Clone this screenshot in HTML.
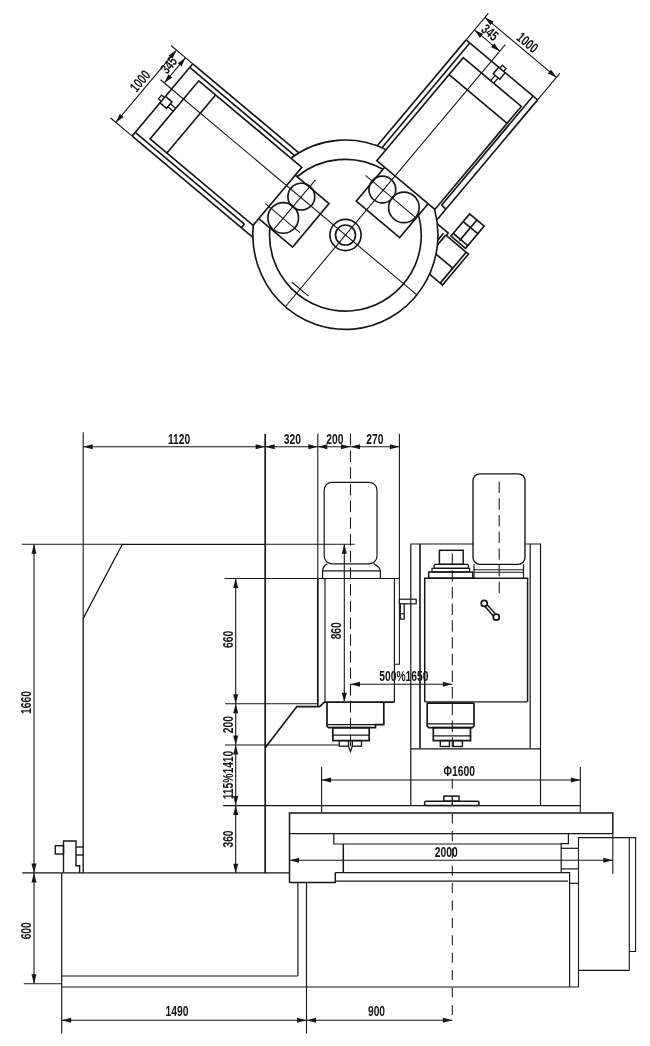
<!DOCTYPE html>
<html><head><meta charset="utf-8"><title>Machine outline drawing</title>
<style>
html,body{margin:0;padding:0;background:#fff;}
body{width:650px;height:1046px;overflow:hidden;}
svg{display:block;filter:grayscale(1);}
svg *{fill:none;stroke:#161616;stroke-linecap:butt;stroke-linejoin:miter;}
svg .f{fill:#161616;stroke:none;}
svg text.f{font-weight:bold;}
svg text{font-family:"Liberation Sans",Arial,sans-serif;}
</style></head><body>
<svg width="650" height="1046" viewBox="0 0 650 1046">
<rect x="0" y="0" width="650" height="1046" style="fill:#fff;stroke:none"/>
<line x1="132.21" y1="136.05" x2="192.82" y2="63.81" stroke-width="1.65" />
<line x1="192.82" y1="63.81" x2="298.90" y2="152.82" stroke-width="1.65" />
<line x1="189.73" y1="67.48" x2="294.64" y2="155.51" stroke-width="1.65" />
<line x1="132.21" y1="136.05" x2="252.89" y2="237.31" stroke-width="1.65" />
<line x1="135.23" y1="132.45" x2="244.39" y2="224.04" stroke-width="1.65" />
<line x1="244.39" y1="224.04" x2="241.37" y2="227.64" stroke-width="1.65" />
<polygon points="301.81,167.27 198.78,80.82 150.06,138.88 253.09,225.34" stroke-width="1.65" />
<line x1="215.63" y1="94.96" x2="166.91" y2="153.03" stroke-width="1.65" />
<polyline points="295.19,175.16 329.05,203.57 292.61,247.01 258.75,218.60" stroke-width="1.65" />
<circle cx="301.33" cy="196.63" r="13.40" stroke-width="1.65"/>
<circle cx="283.18" cy="217.95" r="15.30" stroke-width="1.65"/>
<line x1="315.47" y1="179.78" x2="274.01" y2="229.19" stroke-width="1.1" />
<line x1="299.86" y1="232.60" x2="265.39" y2="203.68" stroke-width="1.1" />
<line x1="160.50" y1="79.77" x2="416.86" y2="294.88" stroke-width="1.1" />
<polyline points="161.32,101.34 158.41,98.90 161.63,95.07 164.54,97.51" stroke-width="1.3" />
<polyline points="160.04,102.88 166.55,108.34 172.01,101.83 165.50,96.36" stroke-width="1.5" />
<line x1="167.83" y1="106.81" x2="173.20" y2="111.31" stroke-width="1.3" />
<line x1="170.41" y1="103.74" x2="175.77" y2="108.24" stroke-width="1.3" />
<line x1="192.82" y1="63.81" x2="170.99" y2="45.49" stroke-width="1.1" />
<line x1="132.21" y1="136.05" x2="110.37" y2="117.73" stroke-width="1.1" />
<line x1="176.50" y1="50.12" x2="115.89" y2="122.35" stroke-width="1.1" />
<line x1="185.54" y1="57.70" x2="164.33" y2="82.98" stroke-width="1.1" />
<polygon points="176.50,50.12 172.50,58.77 168.67,55.56" class="f"/>
<polygon points="115.89,122.35 119.89,113.70 123.72,116.91" class="f"/>
<polygon points="185.54,57.70 181.54,66.36 177.71,63.14" class="f"/>
<polygon points="164.33,82.98 168.33,74.33 172.16,77.54" class="f"/>
<text transform="translate(143.74,84.18) rotate(-50) scale(0.72,1)" font-size="14.3" text-anchor="middle" class="f">1000</text>
<text transform="translate(172.49,68.28) rotate(-50) scale(0.72,1)" font-size="14.3" text-anchor="middle" class="f">345</text>
<line x1="537.61" y1="99.87" x2="466.13" y2="39.90" stroke-width="1.65" />
<line x1="466.13" y1="39.90" x2="377.27" y2="145.79" stroke-width="1.65" />
<line x1="469.81" y1="42.98" x2="381.94" y2="147.70" stroke-width="1.65" />
<line x1="537.61" y1="99.87" x2="436.82" y2="219.97" stroke-width="1.65" />
<line x1="533.09" y1="96.08" x2="441.49" y2="205.24" stroke-width="1.65" />
<line x1="441.49" y1="205.24" x2="446.01" y2="209.03" stroke-width="1.65" />
<polygon points="376.76,160.72 463.22,57.68 521.28,106.41 434.83,209.44" stroke-width="1.65" />
<line x1="449.08" y1="74.54" x2="507.14" y2="123.26" stroke-width="1.65" />
<polyline points="384.65,167.34 356.24,201.20 399.68,237.64 428.09,203.78" stroke-width="1.65" />
<circle cx="382.34" cy="189.54" r="13.40" stroke-width="1.65"/>
<circle cx="403.91" cy="207.39" r="15.30" stroke-width="1.65"/>
<line x1="365.48" y1="175.40" x2="414.89" y2="216.86" stroke-width="1.1" />
<line x1="505.30" y1="44.56" x2="285.31" y2="306.73" stroke-width="1.1" />
<polyline points="503.67,71.39 506.11,68.48 502.28,65.27 499.84,68.18" stroke-width="1.3" />
<polyline points="505.20,72.68 499.74,79.19 493.23,73.73 498.69,67.21" stroke-width="1.5" />
<line x1="498.21" y1="77.90" x2="493.71" y2="83.27" stroke-width="1.3" />
<line x1="495.14" y1="75.33" x2="490.64" y2="80.70" stroke-width="1.3" />
<line x1="466.13" y1="39.90" x2="488.31" y2="13.47" stroke-width="1.1" />
<line x1="537.61" y1="99.87" x2="559.78" y2="73.44" stroke-width="1.1" />
<line x1="484.97" y1="17.45" x2="556.44" y2="77.42" stroke-width="1.1" />
<line x1="474.49" y1="29.94" x2="499.77" y2="51.15" stroke-width="1.1" />
<polygon points="484.97,17.45 493.62,21.45 490.41,25.28" class="f"/>
<polygon points="556.44,77.42 547.78,73.42 551.00,69.59" class="f"/>
<polygon points="474.49,29.94 483.14,33.94 479.93,37.77" class="f"/>
<polygon points="499.77,51.15 491.11,47.15 494.33,43.32" class="f"/>
<text transform="translate(524.29,46.27) rotate(40) scale(0.72,1)" font-size="14.3" text-anchor="middle" class="f">1000</text>
<text transform="translate(486.89,36.16) rotate(40) scale(0.72,1)" font-size="14.3" text-anchor="middle" class="f">345</text>
<line x1="308.55" y1="296.15" x2="291.69" y2="282.01" stroke-width="1.1" />
<circle cx="345.50" cy="235.00" r="15.60" stroke-width="1.65"/>
<circle cx="345.50" cy="235.00" r="10.00" stroke-width="1.65"/>
<path d="M290.93,158.14 A92.55,94.70 0 0 1 386.06,149.63" stroke-width="1.65"/>
<path d="M434.65,209.65 A92.55,94.70 0 1 1 253.29,225.51" stroke-width="1.65"/>
<path d="M297.07,176.74 A75.85,75.85 0 0 1 382.99,169.32" stroke-width="1.65"/>
<path d="M418.55,215.15 A75.85,75.85 0 1 1 269.90,227.95" stroke-width="1.65"/>
<polygon points="451.00,236.06 469.64,213.85 484.20,226.06 465.55,248.28" stroke-width="1.65" />
<line x1="476.92" y1="219.95" x2="459.56" y2="240.64" stroke-width="1.65" />
<line x1="463.21" y1="221.51" x2="477.77" y2="233.72" stroke-width="1.65" />
<line x1="453.25" y1="233.38" x2="467.80" y2="245.59" stroke-width="1.65" />
<polyline points="445.82,235.24 468.41,254.20 442.51,285.07 429.53,274.18" stroke-width="1.65" />
<line x1="466.12" y1="252.27" x2="440.21" y2="283.14" stroke-width="1.65" />
<line x1="452.75" y1="268.21" x2="435.98" y2="254.14" stroke-width="1.65" />
<polyline points="437.35,223.96 448.26,233.11 446.20,235.56" stroke-width="1.65" />
<line x1="443.52" y1="233.31" x2="437.80" y2="240.13" stroke-width="1.65" />
<line x1="445.66" y1="235.11" x2="437.41" y2="244.95" stroke-width="1.65" />
<line x1="83.20" y1="432.30" x2="83.20" y2="618.50" stroke-width="1.1" />
<line x1="265.20" y1="433.80" x2="265.20" y2="544.30" stroke-width="1.7" />
<line x1="317.80" y1="433.80" x2="317.80" y2="578.50" stroke-width="1.1" />
<line x1="399.40" y1="433.80" x2="399.40" y2="578.50" stroke-width="1.1" />
<line x1="350.50" y1="433.80" x2="350.50" y2="751.00" stroke-width="1.05" stroke-dasharray="11.5 5.2"/>
<line x1="83.20" y1="446.80" x2="399.40" y2="446.80" stroke-width="1.1" />
<polygon points="83.20,446.80 92.70,444.25 92.70,449.35" class="f"/>
<polygon points="265.20,446.80 255.70,449.35 255.70,444.25" class="f"/>
<polygon points="265.20,446.80 274.70,444.25 274.70,449.35" class="f"/>
<polygon points="317.80,446.80 308.30,449.35 308.30,444.25" class="f"/>
<polygon points="317.80,446.80 327.30,444.25 327.30,449.35" class="f"/>
<polygon points="350.50,446.80 341.00,449.35 341.00,444.25" class="f"/>
<polygon points="350.50,446.80 360.00,444.25 360.00,449.35" class="f"/>
<polygon points="399.40,446.80 389.90,449.35 389.90,444.25" class="f"/>
<text transform="translate(179.10,444.00) rotate(0) scale(0.72,1)" font-size="14.3" text-anchor="middle" class="f">1120</text>
<text transform="translate(292.30,444.00) rotate(0) scale(0.72,1)" font-size="14.3" text-anchor="middle" class="f">320</text>
<text transform="translate(334.80,444.00) rotate(0) scale(0.72,1)" font-size="14.3" text-anchor="middle" class="f">200</text>
<text transform="translate(374.80,444.00) rotate(0) scale(0.72,1)" font-size="14.3" text-anchor="middle" class="f">270</text>
<line x1="21.70" y1="544.30" x2="122.30" y2="544.30" stroke-width="1.1" />
<line x1="265.20" y1="544.30" x2="354.50" y2="544.30" stroke-width="1.1" />
<line x1="34.00" y1="544.30" x2="34.00" y2="983.70" stroke-width="1.1" />
<polygon points="34.00,544.30 36.55,553.80 31.45,553.80" class="f"/>
<polygon points="34.00,872.90 31.45,863.40 36.55,863.40" class="f"/>
<polygon points="34.00,872.90 36.55,882.40 31.45,882.40" class="f"/>
<polygon points="34.00,983.70 31.45,974.20 36.55,974.20" class="f"/>
<text transform="translate(31.30,702.50) rotate(-90) scale(0.72,1)" font-size="14.3" text-anchor="middle" class="f">1660</text>
<text transform="translate(31.30,930.80) rotate(-90) scale(0.72,1)" font-size="14.3" text-anchor="middle" class="f">600</text>
<line x1="22.30" y1="872.90" x2="61.70" y2="872.90" stroke-width="1.1" />
<line x1="23.80" y1="983.70" x2="61.70" y2="983.70" stroke-width="1.1" />
<polyline points="83.20,872.90 83.20,618.50 122.30,544.30 265.20,544.30" stroke-width="1.3" />
<line x1="265.20" y1="544.30" x2="265.20" y2="873.20" stroke-width="1.7" />
<line x1="61.70" y1="872.90" x2="289.50" y2="872.90" stroke-width="1.3" />
<line x1="61.70" y1="872.90" x2="61.70" y2="987.00" stroke-width="1.2" />
<line x1="61.70" y1="987.00" x2="61.70" y2="1033.80" stroke-width="1.1" />
<line x1="61.70" y1="976.00" x2="297.90" y2="976.00" stroke-width="1.2" />
<line x1="61.70" y1="987.00" x2="579.00" y2="987.00" stroke-width="1.2" />
<line x1="297.90" y1="882.80" x2="297.90" y2="976.00" stroke-width="1.2" />
<line x1="306.50" y1="882.80" x2="306.50" y2="987.00" stroke-width="1.2" />
<line x1="306.50" y1="987.00" x2="306.50" y2="1033.60" stroke-width="1.1" />
<line x1="61.70" y1="1020.20" x2="452.40" y2="1020.20" stroke-width="1.1" />
<polygon points="61.70,1020.20 71.20,1017.65 71.20,1022.75" class="f"/>
<polygon points="306.50,1020.20 297.00,1022.75 297.00,1017.65" class="f"/>
<polygon points="306.50,1020.20 316.00,1017.65 316.00,1022.75" class="f"/>
<polygon points="452.40,1020.20 442.90,1022.75 442.90,1017.65" class="f"/>
<text transform="translate(177.00,1016.00) rotate(0) scale(0.72,1)" font-size="14.3" text-anchor="middle" class="f">1490</text>
<text transform="translate(376.50,1016.00) rotate(0) scale(0.72,1)" font-size="14.3" text-anchor="middle" class="f">900</text>
<polyline points="63.50,872.90 63.50,841.00 76.00,841.00 76.00,865.80 79.60,865.80 79.60,872.90" stroke-width="1.4" />
<rect x="55.30" y="845.70" width="8.20" height="8.30" rx="0" stroke-width="1.4"/>
<line x1="76.00" y1="847.00" x2="83.20" y2="847.00" stroke-width="1.4" />
<line x1="76.00" y1="855.00" x2="83.20" y2="855.00" stroke-width="1.4" />
<line x1="235.70" y1="578.50" x2="235.70" y2="873.20" stroke-width="1.1" />
<polygon points="235.70,578.50 238.25,588.00 233.15,588.00" class="f"/>
<polygon points="235.70,703.80 233.15,694.30 238.25,694.30" class="f"/>
<polygon points="235.70,703.80 238.25,713.30 233.15,713.30" class="f"/>
<polygon points="235.70,745.00 233.15,735.50 238.25,735.50" class="f"/>
<polygon points="235.70,745.00 238.25,754.50 233.15,754.50" class="f"/>
<polygon points="235.70,805.60 233.15,796.10 238.25,796.10" class="f"/>
<polygon points="235.70,805.60 238.25,815.10 233.15,815.10" class="f"/>
<polygon points="235.70,873.20 233.15,863.70 238.25,863.70" class="f"/>
<line x1="224.60" y1="578.50" x2="317.80" y2="578.50" stroke-width="1.1" />
<line x1="225.00" y1="703.80" x2="317.80" y2="703.80" stroke-width="1.1" />
<line x1="225.00" y1="745.00" x2="339.00" y2="745.00" stroke-width="1.1" />
<line x1="223.00" y1="805.60" x2="321.50" y2="805.60" stroke-width="1.1" />
<text transform="translate(233.00,639.40) rotate(-90) scale(0.72,1)" font-size="14.3" text-anchor="middle" class="f">660</text>
<text transform="translate(233.00,724.60) rotate(-90) scale(0.72,1)" font-size="14.3" text-anchor="middle" class="f">200</text>
<text transform="translate(233.00,775.00) rotate(-90) scale(0.72,1)" font-size="14.3" text-anchor="middle" class="f">115%1410</text>
<text transform="translate(233.00,839.00) rotate(-90) scale(0.72,1)" font-size="14.3" text-anchor="middle" class="f">360</text>
<polyline points="265.20,747.80 296.90,706.60 319.50,706.60 324.80,701.90" stroke-width="1.7" />
<line x1="317.80" y1="578.50" x2="317.80" y2="706.60" stroke-width="1.7" />
<line x1="325.00" y1="578.50" x2="325.00" y2="702.30" stroke-width="1.2" />
<line x1="317.80" y1="578.50" x2="399.40" y2="578.50" stroke-width="1.2" />
<line x1="324.80" y1="702.10" x2="394.40" y2="702.10" stroke-width="1.7" />
<line x1="394.40" y1="578.50" x2="394.40" y2="702.30" stroke-width="1.2" />
<polyline points="399.40,578.50 399.40,664.30 394.40,664.30" stroke-width="1.05" />
<rect x="324.20" y="482.30" width="52.80" height="81.50" rx="7.7" stroke-width="1.2"/>
<path d="M327.5,563.8 C323,566 322.6,569 322.6,571.5 L322.6,578.5 M373.7,563.8 C378,566 380.4,569 380.4,571.5 L380.4,578.5" stroke-width="1.2"/>
<line x1="322.60" y1="570.80" x2="380.40" y2="570.80" stroke-width="1.2" />
<line x1="344.30" y1="544.30" x2="344.30" y2="702.30" stroke-width="1.1" />
<polygon points="344.30,544.30 346.85,553.80 341.75,553.80" class="f"/>
<polygon points="344.30,702.30 341.75,692.80 346.85,692.80" class="f"/>
<text transform="translate(341.30,630.80) rotate(-90) scale(0.72,1)" font-size="14.3" text-anchor="middle" class="f">860</text>
<line x1="350.50" y1="684.30" x2="452.30" y2="684.30" stroke-width="1.1" />
<polygon points="350.50,684.30 360.00,681.75 360.00,686.85" class="f"/>
<polygon points="452.30,684.30 442.80,686.85 442.80,681.75" class="f"/>
<text transform="translate(403.90,680.80) rotate(0) scale(0.72,1)" font-size="14.3" text-anchor="middle" class="f">500%1650</text>
<polyline points="327.00,702.30 327.00,726.00 328.50,727.70 375.50,727.70 375.50,724.60 383.80,724.60 383.80,702.30" stroke-width="1.7" />
<line x1="327.00" y1="724.60" x2="375.50" y2="724.60" stroke-width="1.2" />
<rect x="332.80" y="727.70" width="36.40" height="12.90" rx="0" stroke-width="1.7"/>
<line x1="332.80" y1="735.20" x2="369.20" y2="735.20" stroke-width="1.2" />
<rect x="339.20" y="740.60" width="9.30" height="5.60" rx="0" stroke-width="1.3"/>
<rect x="352.30" y="740.60" width="9.20" height="5.60" rx="0" stroke-width="1.3"/>
<polyline points="348.50,746.20 350.50,751.50 352.30,746.20" stroke-width="1.2" />
<polyline points="410.80,805.60 410.80,544.00 473.00,544.00" stroke-width="1.2" />
<polyline points="525.00,544.00 540.50,544.00 540.50,805.60" stroke-width="1.2" />
<line x1="420.00" y1="544.00" x2="420.00" y2="748.60" stroke-width="1.6" />
<line x1="530.20" y1="544.00" x2="530.20" y2="748.60" stroke-width="1.2" />
<line x1="410.80" y1="748.80" x2="540.50" y2="748.80" stroke-width="1.2" />
<polyline points="424.70,701.80 424.70,578.20 527.60,578.20 527.60,701.80" stroke-width="1.5" />
<line x1="424.70" y1="701.80" x2="527.60" y2="701.80" stroke-width="1.2" />
<rect x="473.00" y="473.80" width="52.00" height="90.50" rx="6.8" stroke-width="1.35"/>
<line x1="474.00" y1="564.30" x2="474.00" y2="578.20" stroke-width="1.2" />
<line x1="523.50" y1="564.30" x2="523.50" y2="578.20" stroke-width="1.2" />
<line x1="474.00" y1="569.80" x2="523.50" y2="569.80" stroke-width="1.1" />
<line x1="474.00" y1="572.20" x2="523.50" y2="572.20" stroke-width="1.1" />
<line x1="499.20" y1="481.50" x2="499.20" y2="594.50" stroke-width="1.05" stroke-dasharray="11.5 5.2"/>
<rect x="439.40" y="550.30" width="23.80" height="14.00" rx="0" stroke-width="1.5"/>
<rect x="434.00" y="564.30" width="34.50" height="4.00" rx="1.5" stroke-width="1.2"/>
<rect x="432.00" y="568.30" width="37.60" height="3.70" rx="0" stroke-width="1.2"/>
<rect x="428.70" y="572.00" width="44.10" height="6.20" rx="0" stroke-width="1.5"/>
<line x1="452.30" y1="553.50" x2="452.30" y2="747.00" stroke-width="1.05" stroke-dasharray="11.5 5.2"/>
<polyline points="427.20,703.10 427.20,726.00 428.80,727.70 472.40,727.70 474.00,726.00 474.00,703.10" stroke-width="1.7" />
<line x1="427.20" y1="703.10" x2="474.00" y2="703.10" stroke-width="1.7" />
<line x1="427.20" y1="723.90" x2="474.00" y2="723.90" stroke-width="1.2" />
<rect x="433.30" y="727.70" width="37.20" height="12.90" rx="0" stroke-width="1.7"/>
<line x1="433.30" y1="735.80" x2="470.50" y2="735.80" stroke-width="1.2" />
<rect x="440.30" y="740.60" width="9.20" height="5.90" rx="0" stroke-width="1.4"/>
<rect x="453.20" y="740.60" width="9.20" height="5.90" rx="0" stroke-width="1.4"/>
<circle cx="484.20" cy="603.40" r="3.00" stroke-width="1.7"/>
<circle cx="496.30" cy="617.20" r="3.00" stroke-width="1.7"/>
<line x1="486.97" y1="604.43" x2="495.64" y2="614.32" stroke-width="1.5" />
<line x1="484.86" y1="606.28" x2="493.53" y2="616.17" stroke-width="1.5" />
<rect x="399.40" y="599.20" width="16.80" height="4.60" rx="0" stroke-width="1.2"/>
<polyline points="400.30,603.80 400.30,619.20 404.20,619.20 404.20,603.80" stroke-width="1.3" />
<line x1="400.30" y1="613.80" x2="404.20" y2="613.80" stroke-width="1.2" />
<line x1="321.60" y1="767.00" x2="321.60" y2="813.00" stroke-width="1.1" />
<line x1="580.30" y1="767.00" x2="580.30" y2="813.00" stroke-width="1.1" />
<line x1="321.60" y1="780.00" x2="580.30" y2="780.00" stroke-width="1.1" />
<polygon points="321.60,780.00 331.10,777.45 331.10,782.55" class="f"/>
<polygon points="580.30,780.00 570.80,782.55 570.80,777.45" class="f"/>
<text transform="translate(459.20,776.00) rotate(0) scale(0.72,1)" font-size="14.3" text-anchor="middle" class="f">Φ1600</text>
<line x1="321.50" y1="805.60" x2="580.30" y2="805.60" stroke-width="1.2" />
<rect x="424.60" y="801.20" width="54.40" height="4.20" rx="1.2" stroke-width="1.5"/>
<rect x="443.90" y="796.10" width="15.10" height="5.10" rx="0" stroke-width="1.5"/>
<line x1="452.30" y1="796.10" x2="452.30" y2="805.40" stroke-width="1.0" />
<line x1="452.30" y1="778.70" x2="452.30" y2="1021.00" stroke-width="1.05" stroke-dasharray="10 7.4"/>
<polyline points="289.50,882.80 289.50,813.00 612.80,813.00 612.80,833.60" stroke-width="1.5" />
<line x1="612.80" y1="833.60" x2="612.80" y2="874.00" stroke-width="1.1" />
<line x1="289.50" y1="833.60" x2="612.80" y2="833.60" stroke-width="1.2" />
<polyline points="333.80,833.60 333.80,844.00 561.20,844.00" stroke-width="1.2" />
<line x1="343.30" y1="844.00" x2="343.30" y2="872.60" stroke-width="1.5" />
<polyline points="568.40,833.60 568.40,843.60 561.20,843.60 561.20,872.60" stroke-width="1.2" />
<line x1="561.20" y1="848.30" x2="578.00" y2="848.30" stroke-width="1.2" />
<line x1="561.20" y1="868.90" x2="578.00" y2="868.90" stroke-width="1.2" />
<line x1="289.50" y1="860.20" x2="612.80" y2="860.20" stroke-width="1.1" />
<polygon points="289.50,860.20 299.00,857.65 299.00,862.75" class="f"/>
<polygon points="612.80,860.20 603.30,862.75 603.30,857.65" class="f"/>
<text transform="translate(446.30,857.00) rotate(0) scale(0.72,1)" font-size="14.3" text-anchor="middle" class="f">2000</text>
<polyline points="289.50,882.60 335.30,882.60 335.30,872.60" stroke-width="1.5" />
<polyline points="335.30,872.60 569.60,872.60 569.60,987.00" stroke-width="1.2" />
<line x1="335.30" y1="881.10" x2="568.00" y2="881.10" stroke-width="1.2" />
<line x1="569.60" y1="883.30" x2="578.50" y2="883.30" stroke-width="1.2" />
<polyline points="578.50,987.00 578.50,837.60 635.60,837.60 635.60,951.50 629.30,951.50" stroke-width="1.1" />
<polyline points="629.30,837.60 629.30,970.40 578.50,970.40" stroke-width="1.1" />
</svg>
</body></html>
